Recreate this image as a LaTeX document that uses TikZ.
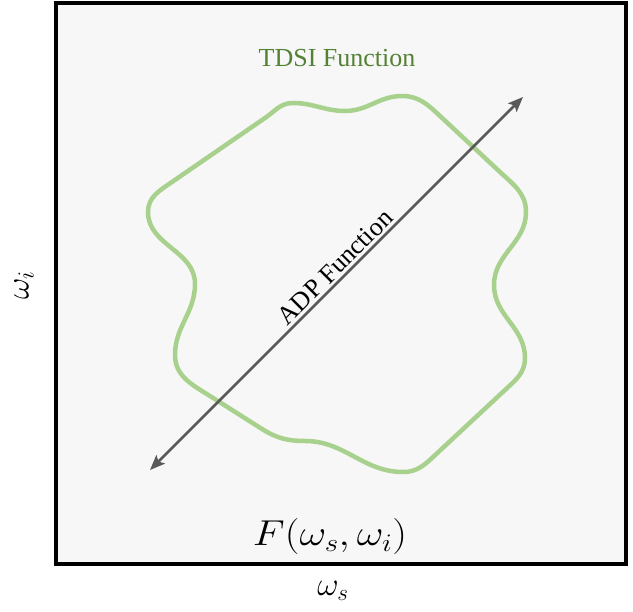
\RequirePackage{fix-cm}
\documentclass[tikz,border=0pt]{standalone}
\usepackage{fontspec}
\setmainfont{Liberation Serif}
\usetikzlibrary{arrows.meta}
\definecolor{bgfill}{HTML}{F7F7F7}
\definecolor{curvegreen}{HTML}{A9D18E}
\definecolor{labelgreen}{HTML}{548235}
\definecolor{arrowgray}{HTML}{595959}
\tikzset{
  framebox/.style={draw=black, line width=4pt, fill=bgfill},
  tdsicurve/.style={draw=curvegreen, line width=4.5pt, line join=round},
  adparrow/.style={draw=arrowgray, line width=2.6pt, {Stealth[length=15pt,width=12pt,inset=3pt]}-{Stealth[length=15pt,width=12pt,inset=3pt]}},
  lbl/.style={inner sep=0pt}
}
\begin{document}
\begin{tikzpicture}[x=1pt,y=-1pt]
\useasboundingbox (0,0) rectangle (633,612);
\fill[white] (0,0) rectangle (633,612);
\draw[framebox] (55.5,3) rectangle (626,564.5);
\draw[tdsicurve]
 (148,212) to[out=90,in=-145.5] (172,182) -- (265,118)
 to[out=34.5,in=180] (293,103)
 to[out=0,in=180] (345,111)
 to[out=0,in=180] (402,96)
 to[out=0,in=137] (440,116) -- (500,172)
 to[out=-43,in=90] (526,212)
 to[out=-90,in=90] (494,285)
 to[out=-90,in=90] (525,358)
 to[out=-90,in=43] (505,390) -- (432,458)
 to[out=-137,in=0] (403,472)
 to[out=180,in=0] (305,441)
 to[out=180,in=-32] (262,429) -- (210,396)
 to[out=148,in=-90] (175,355)
 to[out=90,in=-90] (195,284)
 to[out=90,in=-90] (148,212) -- cycle;
\coordinate (a1) at (150,470);
\coordinate (a2) at (523,97);
\draw[adparrow] (a1) -- (a2) node[pos=0.52, sloped, anchor=south, inner sep=2.5pt, font=\fontsize{26}{30}\selectfont] (adp) {ADP Function};
\node[lbl, text=labelgreen, font=\fontsize{26}{30}\selectfont] (tdsi) at (337,58) {TDSI Function};
\node[lbl, font=\fontsize{36}{42}\selectfont, xscale=1.15] (F) at (330,537) {$F(\omega_s,\omega_i)$};
\node[lbl, rotate=90, font=\fontsize{33}{38}\selectfont] (wi) at (24,285) {$\omega_i$};
\node[lbl, font=\fontsize{33}{38}\selectfont] (ws) at (333,591) {$\omega_s$};
\end{tikzpicture}
\end{document}
